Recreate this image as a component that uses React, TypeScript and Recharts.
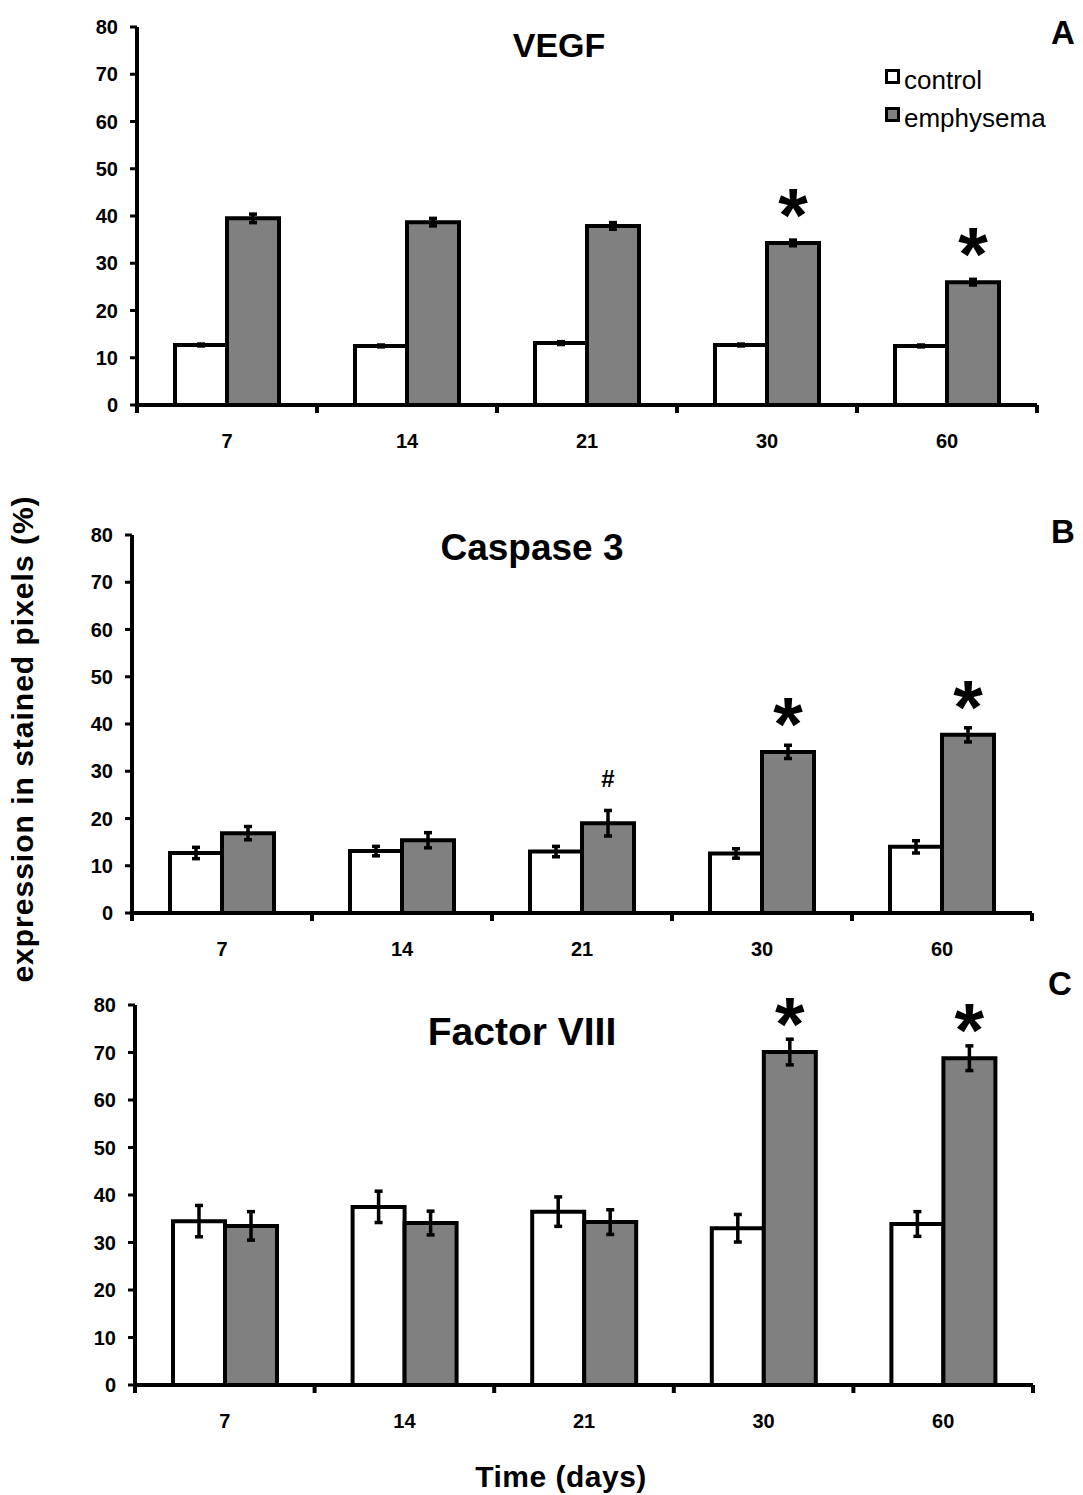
import React from "react";
import { BarChart, Bar, XAxis, YAxis, ErrorBar, LabelList, Legend } from "recharts";

const DAYS = ["7", "14", "21", "30", "60"];
const Y_TICKS = [0, 10, 20, 30, 40, 50, 60, 70, 80];

// VEGF
const VEGF_CONTROL = [12.7, 12.5, 13.1, 12.7, 12.5];
const VEGF_CONTROL_ERR = [0.2, 0.2, 0.3, 0.2, 0.2];
const VEGF_EMPH = [39.5, 38.7, 37.9, 34.3, 26.0];
const VEGF_EMPH_ERR = [0.9, 0.8, 0.7, 0.6, 0.6];
const VEGF_MARKS = ["", "", "", "*", "*"];

// Caspase 3
const CASP_CONTROL = [12.7, 13.1, 13.0, 12.6, 14.0];
const CASP_CONTROL_ERR = [1.2, 1.0, 1.1, 1.0, 1.3];
const CASP_EMPH = [16.9, 15.4, 19.0, 34.1, 37.7];
const CASP_EMPH_ERR = [1.4, 1.6, 2.7, 1.4, 1.5];
const CASP_MARKS = ["", "", "#", "*", "*"];

// Factor VIII
const F8_CONTROL = [34.5, 37.5, 36.5, 33.0, 33.9];
const F8_CONTROL_ERR = [3.3, 3.3, 3.1, 2.9, 2.6];
const F8_EMPH = [33.5, 34.1, 34.3, 70.1, 68.8];
const F8_EMPH_ERR = [3.0, 2.5, 2.6, 2.7, 2.6];
const F8_MARKS = ["", "", "", "*", "*"];

const FONT = '"Liberation Sans", Arial, Helvetica, sans-serif';
const GRAY = "#808080";
const SERIES_FILL: Record<string, string> = { control: "#ffffff", emphysema: GRAY };
const W = 1083;

const buildRows = (
  ctrl: number[],
  ctrlErr: number[],
  emph: number[],
  emphErr: number[],
  marks: string[]
) =>
  DAYS.map((day, i) => ({
    day,
    control: ctrl[i],
    controlErr: ctrlErr[i],
    emphysema: emph[i],
    emphysemaErr: emphErr[i],
    mark: marks[i],
  }));

const PANELS = [
  {
    key: "A",
    rows: buildRows(VEGF_CONTROL, VEGF_CONTROL_ERR, VEGF_EMPH, VEGF_EMPH_ERR, VEGF_MARKS),
    top: 0, height: 460, axisX: 137, plotRight: 1037, plotTop: 27, zeroY: 405, legend: true,
  },
  {
    key: "B",
    rows: buildRows(CASP_CONTROL, CASP_CONTROL_ERR, CASP_EMPH, CASP_EMPH_ERR, CASP_MARKS),
    top: 480, height: 490, axisX: 132, plotRight: 1032, plotTop: 535, zeroY: 913, legend: false,
  },
  {
    key: "C",
    rows: buildRows(F8_CONTROL, F8_CONTROL_ERR, F8_EMPH, F8_EMPH_ERR, F8_MARKS),
    top: 970, height: 470, axisX: 135, plotRight: 1033, plotTop: 1005, zeroY: 1385, legend: false,
  },
];

const DayTick = (props: any) => {
  const { x, y, payload, index, band } = props;
  const left = x - band / 2;
  return (
    <g>
      <line x1={left} x2={left} y1={y} y2={y + 8} stroke="#000" strokeWidth={4} />
      {index === DAYS.length - 1 && (
        <line x1={x + band / 2} x2={x + band / 2} y1={y} y2={y + 8} stroke="#000" strokeWidth={4} />
      )}
      <text x={x} y={y + 43} textAnchor="middle" fontSize={20} fontWeight="bold" fill="#000" fontFamily={FONT}>
        {payload.value}
      </text>
    </g>
  );
};

const MarkLabel = (props: any) => {
  const { x, y, width, value } = props;
  if (!value) return null;
  const cx = Number(x) + Number(width) / 2;
  const cy = Number(y) - 44;
  if (value === "#") {
    return (
      <text x={cx} y={cy + 8} textAnchor="middle" fontSize={24} fontWeight="bold" fill="#000" fontFamily={FONT}>
        #
      </text>
    );
  }
  return (
    <text x={cx} y={cy + 42} textAnchor="middle" fontSize={76} fontWeight="bold" fill="#000" fontFamily={FONT}>
      *
    </text>
  );
};

const LegendBox = ({ payload }: any) => (
  <div style={{ fontFamily: FONT, fontSize: 26, color: "#000", lineHeight: "38px" }}>
    {(payload || []).map((e: any) => (
      <div key={e.value} style={{ display: "flex", alignItems: "center", whiteSpace: "nowrap" }}>
        <span
          style={{
            display: "inline-block",
            width: 9,
            height: 9,
            border: "3px solid #000",
            background: SERIES_FILL[e.value] || e.color,
            marginRight: 4,
            position: "relative",
            top: -4,
          }}
        />
        {e.value}
      </div>
    ))}
  </div>
);

function Panel({ p }: { p: (typeof PANELS)[number] }) {
  const band = (p.plotRight - p.axisX) / DAYS.length;
  const xAxisH = 50;
  const bottom = p.height - (p.zeroY - p.top) - xAxisH;
  return (
    <div style={{ position: "absolute", left: 0, top: p.top }}>
      <BarChart
        width={W}
        height={p.height}
        data={p.rows}
        margin={{ top: p.plotTop - p.top, right: W - p.plotRight, bottom, left: 0 }}
        barGap={0}
        barSize={52}
      >
        <XAxis
          dataKey="day"
          height={xAxisH}
          interval={0}
          axisLine={{ stroke: "#000", strokeWidth: 4 }}
          tickLine={false}
          tickSize={0}
          tickMargin={0}
          tick={(props: any) => <DayTick {...props} band={band} />}
        />
        <YAxis
          width={p.axisX}
          domain={[0, 80]}
          ticks={Y_TICKS}
          interval={0}
          axisLine={{ stroke: "#000", strokeWidth: 4 }}
          tickLine={{ stroke: "#000", strokeWidth: 3 }}
          tickSize={7}
          tickMargin={12}
          tick={{ fontSize: 20, fontWeight: "bold", fill: "#000", fontFamily: FONT }}
        />
        <Bar dataKey="control" name="control" fill="#ffffff" stroke="#000" strokeWidth={4} isAnimationActive={false}>
          <ErrorBar dataKey="controlErr" width={4} strokeWidth={3.5} stroke="#000" />
        </Bar>
        <Bar dataKey="emphysema" name="emphysema" fill={GRAY} stroke="#000" strokeWidth={4} isAnimationActive={false}>
          <ErrorBar dataKey="emphysemaErr" width={4} strokeWidth={3.5} stroke="#000" />
          <LabelList dataKey="mark" content={MarkLabel} />
        </Bar>
        {p.legend && (
          <Legend
            layout="vertical"
            align="center"
            verticalAlign="middle"
            content={LegendBox}
            wrapperStyle={{ left: 885, top: 61, width: 190, height: 80 }}
          />
        )}
      </BarChart>
    </div>
  );
}

export default function App() {
  return (
    <div
      style={{
        position: "absolute",
        left: 0,
        top: 0,
        width: W,
        height: 1495,
        background: "#fff",
        fontFamily: FONT,
      }}
    >
      {PANELS.map((p) => (
        <Panel key={p.key} p={p} />
      ))}
      <svg
        width={W}
        height={1495}
        style={{ position: "absolute", left: 0, top: 0, pointerEvents: "none" }}
        fontFamily={FONT}
        fontWeight="bold"
        fill="#000"
      >
        <text x={559} y={57} textAnchor="middle" fontSize={34}>VEGF</text>
        <text x={532} y={560} textAnchor="middle" fontSize={37}>Caspase 3</text>
        <text x={522} y={1045} textAnchor="middle" fontSize={39}>Factor VIII</text>
        <text x={1063} y={44} textAnchor="middle" fontSize={33}>A</text>
        <text x={1063} y={543} textAnchor="middle" fontSize={33}>B</text>
        <text x={1060} y={995} textAnchor="middle" fontSize={33}>C</text>
        <text transform="translate(33,739) rotate(-90)" textAnchor="middle" fontSize={30} letterSpacing={1}>
          expression in stained pixels (%)
        </text>
        <text x={561} y={1487} textAnchor="middle" fontSize={30} letterSpacing={0.5}>
          Time (days)
        </text>
      </svg>
    </div>
  );
}
